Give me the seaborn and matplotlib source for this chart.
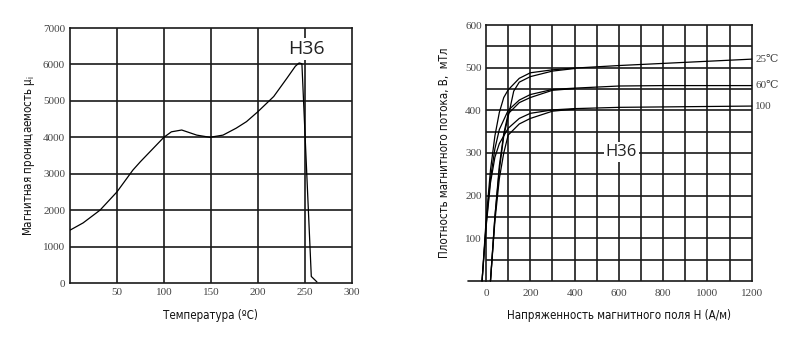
import numpy as np
import pandas as pd
import matplotlib
matplotlib.use("Agg")
import matplotlib.pyplot as plt
import seaborn as sns

# ---------------- data ----------------
# Left chart: initial permeability vs temperature
temp_c = [0, 14, 32, 50, 67, 75, 100, 108, 119, 135, 149, 163, 177, 188, 200, 217, 231, 240, 244, 247, 257, 263]
mu_i = [1450, 1650, 2000, 2500, 3100, 3330, 4000, 4150, 4200, 4060, 4000, 4060, 4250, 4430, 4700, 5120, 5620, 5950, 6040, 6020, 180, 30]

# Right chart: B-H curves (two branches per temperature)
h_25a = [-18, 0, 20, 40, 60, 80, 100, 150, 200, 300, 400, 600, 800, 1000, 1200]
b_25a = [0, 140, 260, 340, 395, 430, 448, 475, 488, 495, 499, 505, 510, 515, 520]
h_25b = [20, 40, 60, 80, 100, 125, 150, 200, 300, 400]
b_25b = [0, 150, 260, 340, 385, 445, 466, 479, 492, 498]
h_60a = [-18, 0, 20, 40, 60, 100, 150, 200, 300, 400, 600, 800, 1000, 1200]
b_60a = [0, 130, 240, 310, 355, 400, 424, 437, 449, 452, 457, 458, 458, 458]
h_60b = [20, 40, 60, 80, 100, 150, 200, 300, 400]
b_60b = [0, 150, 270, 345, 392, 418, 430, 447, 451]
h_100a = [-18, 0, 20, 40, 60, 100, 150, 200, 300, 400, 600, 800, 1000, 1200]
b_100a = [0, 125, 230, 290, 322, 358, 381, 393, 401, 404, 407, 408, 409, 410]
h_100b = [20, 40, 60, 80, 100, 150, 200, 300, 400]
b_100b = [0, 140, 240, 300, 342, 368, 381, 398, 403]

curve_labels = ["25℃", "60℃", "100"]
curve_label_b = [520, 458, 410]

left_xticks = [50, 100, 150, 200, 250, 300]
left_yticks = [0, 1000, 2000, 3000, 4000, 5000, 6000, 7000]
right_xticks = [0, 200, 400, 600, 800, 1000, 1200]
right_yticks = [100, 200, 300, 400, 500, 600]

# ---------------- style ----------------
sns.set_style("white")
plt.rcParams['font.family'] = ['DejaVu Sans']
lab_kw = dict(family='DejaVu Sans', fontstretch='condensed', fontsize=8.3, color='#111111')
tick_font = ['Liberation Serif', 'DejaVu Serif']
grid_c = '#1a1a1a'
grid_lw = 1.2
tick_c = '#444444'

fig = plt.figure(figsize=(7.96, 3.37), dpi=100)
axL = fig.add_axes([0.0879, 0.1602, 0.3539, 0.7567])
axR = fig.add_axes([0.6106, 0.1662, 0.3338, 0.7596])

# ---------------- left chart ----------------
dfL = pd.DataFrame({"T": temp_c, "mu": mu_i})
for v in [50, 100, 150, 200, 250]:
    axL.axvline(v, color=grid_c, lw=grid_lw, zorder=1)
for v in [1000, 2000, 3000, 4000, 5000, 6000]:
    axL.axhline(v, color=grid_c, lw=grid_lw, zorder=1)
sns.lineplot(data=dfL, x="T", y="mu", ax=axL, color='black', lw=0.9,
             estimator=None, sort=False, zorder=3)
axL.set_xlim(0, 300)
axL.set_ylim(0, 7000)
axL.set_xticks(left_xticks)
axL.set_yticks(left_yticks)
axL.set_xticklabels([str(v) for v in left_xticks], family=tick_font, fontsize=8, color=tick_c)
axL.set_yticklabels([str(v) for v in left_yticks], family=tick_font, fontsize=8, color=tick_c)
axL.tick_params(axis='both', length=2, width=1, pad=1.5, color=grid_c)
axL.set_xlabel("Температура (ºC)", labelpad=9, **lab_kw)
axL.set_ylabel("Магнитная проницаемость μ$_\\mathregular{i}$", labelpad=4, **lab_kw)
axL.text(252, 6420, "H36", family=['Open Sans', 'DejaVu Sans'], fontsize=14, color='#222222',
         ha='center', va='center', zorder=4,
         bbox=dict(facecolor='white', edgecolor='none', pad=1.5))
for s in axL.spines.values():
    s.set_color(grid_c)
    s.set_linewidth(grid_lw)

# ---------------- right chart ----------------
rows = []
for name, hs, bs in [("25a", h_25a, b_25a), ("25b", h_25b, b_25b),
                     ("60a", h_60a, b_60a), ("60b", h_60b, b_60b),
                     ("100a", h_100a, b_100a), ("100b", h_100b, b_100b)]:
    for h, b in zip(hs, bs):
        rows.append({"curve": name, "H": h, "B": b})
dfR = pd.DataFrame(rows)

for v in range(100, 1200, 100):
    axR.axvline(v, color=grid_c, lw=grid_lw, zorder=1)
for v in range(50, 600, 50):
    axR.axhline(v, color=grid_c, lw=grid_lw, zorder=1)
axR.plot([-80, 0], [0, 0], color=grid_c, lw=grid_lw, clip_on=False, zorder=2)
sns.lineplot(data=dfR, x="H", y="B", units="curve", ax=axR, color='black', lw=0.9,
             estimator=None, sort=False, clip_on=False, zorder=3)
axR.set_xlim(0, 1200)
axR.set_ylim(0, 600)
axR.set_xticks(right_xticks)
axR.set_yticks(right_yticks)
axR.set_xticklabels([str(v) for v in right_xticks], family=tick_font, fontsize=8, color=tick_c)
axR.set_yticklabels([str(v) for v in right_yticks], family=tick_font, fontsize=8, color=tick_c)
axR.tick_params(axis='both', length=0, pad=3)
axR.tick_params(axis='x', pad=6)
axR.set_xlabel("Напряженность магнитного поля Н (А/м)", labelpad=8, **lab_kw)
axR.set_ylabel("Плотность магнитного потока, В,  мТл", labelpad=10, **lab_kw)
for lab, b in zip(curve_labels, curve_label_b):
    axR.text(1215, b, lab, family=tick_font + ['DejaVu Sans'], fontsize=8, color=tick_c,
             ha='left', va='center', clip_on=False)
axR.text(612, 303, "H36", family=['Open Sans', 'DejaVu Sans'], fontsize=12, color='#222222',
         ha='center', va='center', zorder=4,
         bbox=dict(facecolor='white', edgecolor='none', pad=1.5))
for s in axR.spines.values():
    s.set_color(grid_c)
    s.set_linewidth(grid_lw)

fig.savefig("out.png", dpi=100, facecolor='white')
